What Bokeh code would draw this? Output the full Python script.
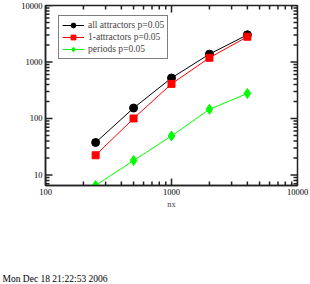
import math
from bokeh.plotting import figure
from bokeh.models import LogAxis, FixedTicker, PrintfTickFormatter, CustomJSTickFormatter, Title, Range1d
from bokeh.embed import file_html
from bokeh.resources import INLINE

nx = [250, 500, 1000, 2000, 4000]
all_attr = [37.5, 153, 521, 1377, 3030]
one_attr = [22.3, 100, 410, 1188, 2800]
periods = [6.5, 18, 49, 145, 277]
series_labels = ["all attractors p=0.05", "1-attractors p=0.05", "periods p=0.05"]
x_label = "nx"
date_text = "Mon Dec 18 21:22:53 2006"

x_major = [100, 1000, 10000]
x_minor = [200, 300, 400, 500, 600, 700, 800, 900,
           2000, 3000, 4000, 5000, 6000, 7000, 8000, 9000]
y_major = [10, 100, 1000, 10000]
y_minor = [7, 8, 9, 20, 30, 40, 50, 60, 70, 80, 90,
           200, 300, 400, 500, 600, 700, 800, 900,
           2000, 3000, 4000, 5000, 6000, 7000, 8000, 9000]

X0, X1 = 100, 10000
Y0, Y1 = 6.5, 10000

FONT = "Liberation Serif"

p = figure(width=310, height=284, x_axis_type="log", y_axis_type="log",
           x_range=Range1d(X0, X1), y_range=Range1d(Y0, Y1),
           output_backend="svg", toolbar_location=None,
           min_border_left=45, min_border_right=13, min_border_top=5, min_border_bottom=96)
p.grid.visible = False
p.outline_line_color = "#222222"
p.outline_line_width = 1.5
p.background_fill_color = "white"
p.border_fill_color = "white"

p.line(nx, all_attr, color="black", line_width=1, legend_label=series_labels[0])
p.scatter(nx, all_attr, marker="circle", size=8, color="black", legend_label=series_labels[0])
p.line(nx, one_attr, color="#ff0000", line_width=1, legend_label=series_labels[1])
p.scatter(nx, one_attr, marker="square", size=7, color="#ff0000", legend_label=series_labels[1])
p.line(nx, periods, color="#00ff00", line_width=1, legend_label=series_labels[2])
p.scatter(nx, periods, marker="diamond", size=10, color="#00ff00", legend_label=series_labels[2])

# inward tick marks on all four sides (half of each dash is clipped by the frame)
for ticks, size in [(x_major, 14), (x_minor, 8)]:
    for yv in (Y0, Y1):
        p.scatter(ticks, [yv] * len(ticks), marker="dash", angle=math.pi / 2,
                  size=size, line_color="#222222", line_width=1.5)
for ticks, size in [(y_major, 14), (y_minor, 8)]:
    for xv in (X0, X1):
        p.scatter([xv] * len(ticks), ticks, marker="dash", angle=0,
                  size=size, line_color="#222222", line_width=1.5)

xa = p.below[0]
ya = p.left[0]
for ax in [xa, ya]:
    ax.ticker = FixedTicker(ticks=x_major if ax is xa else y_major)
    ax.formatter = PrintfTickFormatter(format="%d")
    ax.axis_line_color = "#222222"
    ax.axis_line_width = 1.5
    ax.major_tick_in = 0
    ax.major_tick_out = 0
    ax.minor_tick_in = 0
    ax.minor_tick_out = 0
    ax.major_label_text_font = FONT
    ax.major_label_text_font_size = "8.5px"
    ax.major_label_text_color = "black"
    ax.major_label_standoff = 3

xa.axis_label = x_label
xa.axis_label_text_font = FONT
xa.axis_label_text_font_size = "8.5px"
xa.axis_label_text_font_style = "normal"
xa.axis_label_standoff = 1

# empty spacer panel between the x axis and the time stamp
spacer = LogAxis(ticker=FixedTicker(ticks=[X0]), axis_line_color=None,
                 major_tick_line_color="white", minor_tick_line_color=None,
                 major_tick_in=0, major_tick_out=59, minor_tick_in=0, minor_tick_out=0,
                 major_label_standoff=0,
                 formatter=CustomJSTickFormatter(code="return ''"))
p.add_layout(spacer, "below")

leg = p.legend[0]
leg.location = (13, 126)
leg.margin = 0
leg.border_line_color = "black"
leg.border_line_width = 1
leg.background_fill_color = "white"
leg.background_fill_alpha = 1
leg.label_text_font = FONT
leg.label_text_font_size = "9.5px"
leg.glyph_width = 22
leg.glyph_height = 12
leg.label_height = 12
leg.spacing = 0
leg.padding = 3
leg.label_standoff = 4

p.add_layout(Title(text=date_text, align="left", offset=-43, standoff=2,
                   text_font=FONT, text_font_size="9.5px", text_font_style="normal",
                   text_color="black"), "below")

open("out.html", "w").write(file_html(p, INLINE))
